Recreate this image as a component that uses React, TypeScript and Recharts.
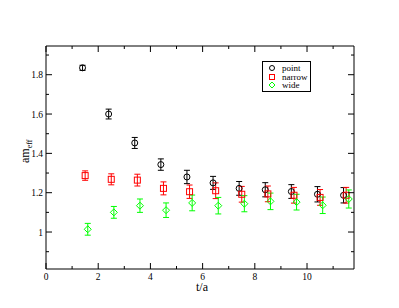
import { ScatterChart, Scatter, XAxis, YAxis, ErrorBar } from "recharts"

const pointT = [1.4, 2.4, 3.4, 4.4, 5.4, 6.4, 7.4, 8.4, 9.4, 10.4, 11.4]
const pointM = [1.835, 1.6, 1.453, 1.343, 1.28, 1.25, 1.222, 1.215, 1.206, 1.192, 1.187]
const pointErr = [0.013, 0.025, 0.028, 0.029, 0.034, 0.033, 0.035, 0.036, 0.035, 0.039, 0.039]

const narrowT = [1.5, 2.5, 3.5, 4.5, 5.5, 6.5, 7.5, 8.5, 9.5, 10.5, 11.5]
const narrowM = [1.287, 1.268, 1.264, 1.222, 1.205, 1.21, 1.192, 1.194, 1.187, 1.176, 1.187]
const narrowErr = [0.024, 0.028, 0.03, 0.033, 0.034, 0.04, 0.04, 0.04, 0.04, 0.04, 0.04]

const wideT = [1.6, 2.6, 3.6, 4.6, 5.6, 6.6, 7.6, 8.6, 9.6, 10.6, 11.6]
const wideM = [1.014, 1.1, 1.134, 1.111, 1.148, 1.134, 1.144, 1.156, 1.152, 1.136, 1.168]
const wideErr = [0.03, 0.03, 0.034, 0.037, 0.04, 0.042, 0.041, 0.042, 0.04, 0.042, 0.046]

const xTicks = [0, 1, 2, 3, 4, 5, 6, 7, 8, 9, 10, 11]
const xLabels = [0, 2, 4, 6, 8, 10]
const yTicks = [0.9, 1.0, 1.1, 1.2, 1.3, 1.4, 1.5, 1.6, 1.7, 1.8, 1.9]
const yLabels = [1.0, 1.2, 1.4, 1.6, 1.8]

const build = (t: number[], m: number[], e: number[]) =>
  t.map((x, i) => ({ t: x, m: m[i], err: e[i] }))

const pointData = build(pointT, pointM, pointErr)
const narrowData = build(narrowT, narrowM, narrowErr)
const wideData = build(wideT, wideM, wideErr)

const font = "'Liberation Serif', 'DejaVu Serif', serif"
const isMajor = (v: number, list: number[]) => list.some((l) => Math.abs(l - v) < 1e-6)
const fmt = (v: number) => String(Math.round(v * 10) / 10)

const BottomTick = (p: any) => {
  const v = p.payload.value
  const major = isMajor(v, xLabels)
  return (
    <g>
      <line x1={p.x} x2={p.x} y1={p.y} y2={p.y - (major ? 6 : 3)} stroke="#000" />
      {major && (
        <text x={p.x} y={p.y + 11} textAnchor="middle" fontSize={9.5} fontFamily={font} fill="#000">
          {fmt(v)}
        </text>
      )}
    </g>
  )
}

const TopTick = (p: any) => {
  const major = isMajor(p.payload.value, xLabels)
  return <line x1={p.x} x2={p.x} y1={p.y} y2={p.y + (major ? 6 : 3)} stroke="#000" />
}

const LeftTick = (p: any) => {
  const v = p.payload.value
  const major = isMajor(v, yLabels)
  return (
    <g>
      <line x1={p.x} x2={p.x + (major ? 6 : 3)} y1={p.y} y2={p.y} stroke="#000" />
      {major && (
        <text x={p.x - 3} y={p.y + 3.5} textAnchor="end" fontSize={9.5} fontFamily={font} fill="#000">
          {fmt(v)}
        </text>
      )}
    </g>
  )
}

const RightTick = (p: any) => {
  const major = isMajor(p.payload.value, yLabels)
  return <line x1={p.x} x2={p.x - (major ? 6 : 3)} y1={p.y} y2={p.y} stroke="#000" />
}

const Circle = (p: any) => <circle cx={p.cx} cy={p.cy} r={3} fill="none" stroke="#000" />
const Square = (p: any) => (
  <rect x={p.cx - 3} y={p.cy - 3} width={6} height={6} fill="none" stroke="#ff0000" />
)
const Diamond = (p: any) => (
  <path
    d={`M${p.cx},${p.cy - 3.5}L${p.cx + 3.5},${p.cy}L${p.cx},${p.cy + 3.5}L${p.cx - 3.5},${p.cy}Z`}
    fill="none"
    stroke="#00ff00"
  />
)

const legendItems = [
  { name: "point", color: "#000" },
  { name: "narrow", color: "#ff0000" },
  { name: "wide", color: "#00ff00" },
]

const LegendBox = () => (
  <div
    style={{
      position: "absolute",
      left: 254,
      top: 53,
      border: "1px solid #000",
      padding: "2px 2px 1px 5px",
      fontFamily: font,
      fontSize: 9,
      lineHeight: "8.6px",
      background: "#fff",
      color: "#000",
    }}
  >
    {legendItems.map((it, i) => (
      <div key={it.name} style={{ display: "flex", alignItems: "center" }}>
        <svg width={10} height={8}>
          {i === 0 && <circle cx={4} cy={4} r={2.5} fill="none" stroke={it.color} />}
          {i === 1 && <rect x={1.5} y={1.5} width={5} height={5} fill="none" stroke={it.color} />}
          {i === 2 && <path d="M4,1L7,4L4,7L1,4Z" fill="none" stroke={it.color} />}
        </svg>
        <span style={{ marginLeft: 4 }}>{it.name}</span>
      </div>
    ))}
  </div>
)

export default function App() {
  return (
    <div style={{ position: "relative", width: 383, height: 292 }}>
      <ScatterChart width={383} height={292} margin={{ top: 37, right: 36, bottom: 30, left: 37 }}>
        <XAxis
          xAxisId="b"
          type="number"
          dataKey="t"
          domain={[0, 11.8]}
          allowDataOverflow
          ticks={xTicks}
          interval={0}
          height={1}
          tickSize={0}
          tickMargin={0}
          tick={BottomTick}
          stroke="#000"
          label={{
            content: (lp: any) => (
              <text
                x={lp.viewBox.x + lp.viewBox.width / 2 + 2}
                y={lp.viewBox.y + 22}
                textAnchor="middle"
                fontSize={12}
                fontFamily={font}
                fill="#000"
              >
                t/a
              </text>
            ),
          }}
        />
        <XAxis
          xAxisId="t"
          orientation="top"
          type="number"
          dataKey="t"
          domain={[0, 11.8]}
          allowDataOverflow
          ticks={xTicks}
          interval={0}
          height={1}
          tickSize={0}
          tickMargin={0}
          tick={TopTick}
          stroke="#000"
        />
        <YAxis
          yAxisId="l"
          type="number"
          dataKey="m"
          domain={[0.812, 1.946]}
          allowDataOverflow
          ticks={yTicks}
          interval={0}
          width={1}
          tickSize={0}
          tickMargin={0}
          tick={LeftTick}
          stroke="#000"
          label={{
            content: () => (
              <text transform="translate(21,155) rotate(-90)" fontSize={12} fontFamily={font} fill="#000">
                am<tspan fontSize={8} dy={3}>eff</tspan>
              </text>
            ),
          }}
        />
        <YAxis
          yAxisId="r"
          orientation="right"
          type="number"
          dataKey="m"
          domain={[0.812, 1.946]}
          allowDataOverflow
          ticks={yTicks}
          interval={0}
          width={1}
          tickSize={0}
          tickMargin={0}
          tick={RightTick}
          stroke="#000"
        />
        <Scatter name="point" data={pointData} xAxisId="b" yAxisId="l" shape={Circle} isAnimationActive={false}>
          <ErrorBar dataKey="err" direction="y" width={3} stroke="#000" strokeWidth={1} isAnimationActive={false} />
        </Scatter>
        <Scatter name="narrow" data={narrowData} xAxisId="b" yAxisId="l" shape={Square} isAnimationActive={false}>
          <ErrorBar dataKey="err" direction="y" width={3} stroke="#ff0000" strokeWidth={1} isAnimationActive={false} />
        </Scatter>
        <Scatter name="wide" data={wideData} xAxisId="b" yAxisId="l" shape={Diamond} isAnimationActive={false}>
          <ErrorBar dataKey="err" direction="y" width={3} stroke="#00ff00" strokeWidth={1} isAnimationActive={false} />
        </Scatter>
        <Scatter data={pointData} xAxisId="t" yAxisId="r" shape={() => null} isAnimationActive={false} legendType="none" />
      </ScatterChart>
      <LegendBox />
    </div>
  )
}
